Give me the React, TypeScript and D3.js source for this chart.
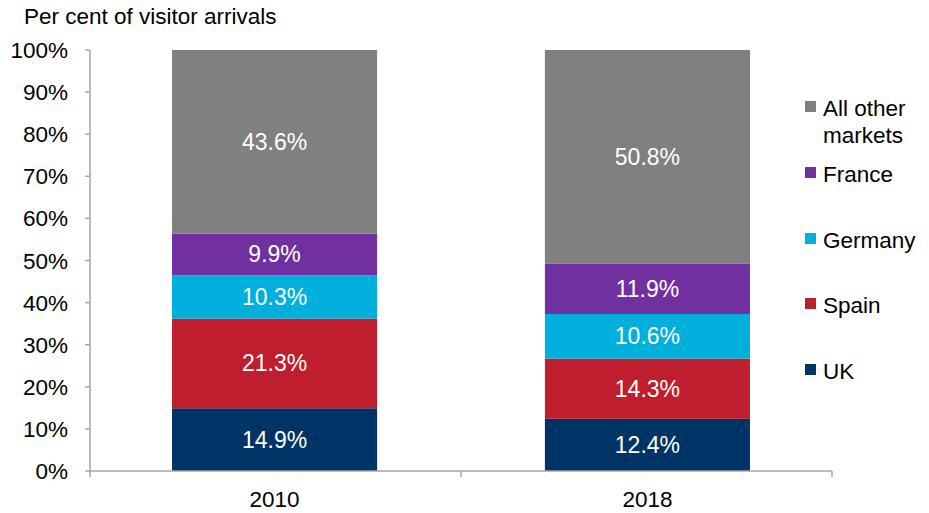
import React from "react";
import * as d3 from "d3";

const years = ["2010", "2018"];
const seriesNames = ["UK", "Spain", "Germany", "France", "All other markets"];
const uk = [14.9, 12.4];
const spain = [21.3, 14.3];
const germany = [10.3, 10.6];
const france = [9.9, 11.9];
const other = [43.6, 50.8];
const colors = ["#003366", "#be1e2d", "#00afdb", "#7030a0", "#808080"];
const yTicks = [0, 10, 20, 30, 40, 50, 60, 70, 80, 90, 100];

export default function App() {
  const W = 929, H = 513;
  const left = 90, right = 832, top = 50, bottom = 471;
  const x = d3.scaleBand().domain(years).range([left, right]).paddingInner(0.45).paddingOuter(0.22);
  const y = d3.scaleLinear().domain([0, 100]).range([bottom, top]);
  const rows = years.map((yr, i) => ({
    year: yr,
    UK: uk[i], Spain: spain[i], Germany: germany[i], France: france[i], "All other markets": other[i],
  }));
  const stacked = d3.stack<any>().keys(seriesNames)(rows);
  const font = "Liberation Sans, Arial, sans-serif";
  const fs = 22.5;
  const legendItems = [
    { name: "All other markets", lines: ["All other", "markets"], y: 108, c: colors[4] },
    { name: "France", lines: ["France"], y: 174, c: colors[3] },
    { name: "Germany", lines: ["Germany"], y: 240, c: colors[2] },
    { name: "Spain", lines: ["Spain"], y: 305, c: colors[1] },
    { name: "UK", lines: ["UK"], y: 371, c: colors[0] },
  ];
  return (
    <svg width={W} height={H} style={{ position: "absolute", left: 0, top: 0, background: "#fff" }} fontFamily={font}>
      <text x={24} y={24} fontSize={fs} fill="#000">Per cent of visitor arrivals</text>
      {stacked.map((s, si) =>
        s.map((d, i) => (
          <g key={si + "-" + i}>
            <rect x={x(years[i])} width={x.bandwidth()} y={y(d[1])} height={y(d[0]) - y(d[1])} fill={colors[si]} />
            <text x={(x(years[i]) as number) + x.bandwidth() / 2} y={(y(d[0]) + y(d[1])) / 2 + 8} textAnchor="middle" fontSize={23} fill="#fff">
              {(d[1] - d[0]).toFixed(1)}%
            </text>
          </g>
        ))
      )}
      <line x1={left} x2={left} y1={top} y2={bottom} stroke="#a6a6a6" strokeWidth={1.5} />
      <line x1={left} x2={right} y1={bottom} y2={bottom} stroke="#a6a6a6" strokeWidth={1.5} />
      {yTicks.map((t) => (
        <g key={t}>
          <line x1={left - 5} x2={left} y1={y(t)} y2={y(t)} stroke="#a6a6a6" strokeWidth={1.5} />
          <text x={68} y={y(t) + 8} textAnchor="end" fontSize={fs} fill="#000">{t}%</text>
        </g>
      ))}
      {[left, (left + right) / 2, right].map((tx, i) => (
        <line key={i} x1={tx} x2={tx} y1={bottom} y2={bottom + 6} stroke="#a6a6a6" strokeWidth={1.5} />
      ))}
      {years.map((yr) => (
        <text key={yr} x={(x(yr) as number) + x.bandwidth() / 2} y={507} textAnchor="middle" fontSize={fs} fill="#000">{yr}</text>
      ))}
      {legendItems.map((it) => (
        <g key={it.name}>
          <rect x={805} y={it.y - 7} width={11} height={11} fill={it.c} />
          {it.lines.map((l, li) => (
            <text key={li} x={823} y={it.y + 8 + li * 27} fontSize={fs} fill="#000">{l}</text>
          ))}
        </g>
      ))}
    </svg>
  );
}
